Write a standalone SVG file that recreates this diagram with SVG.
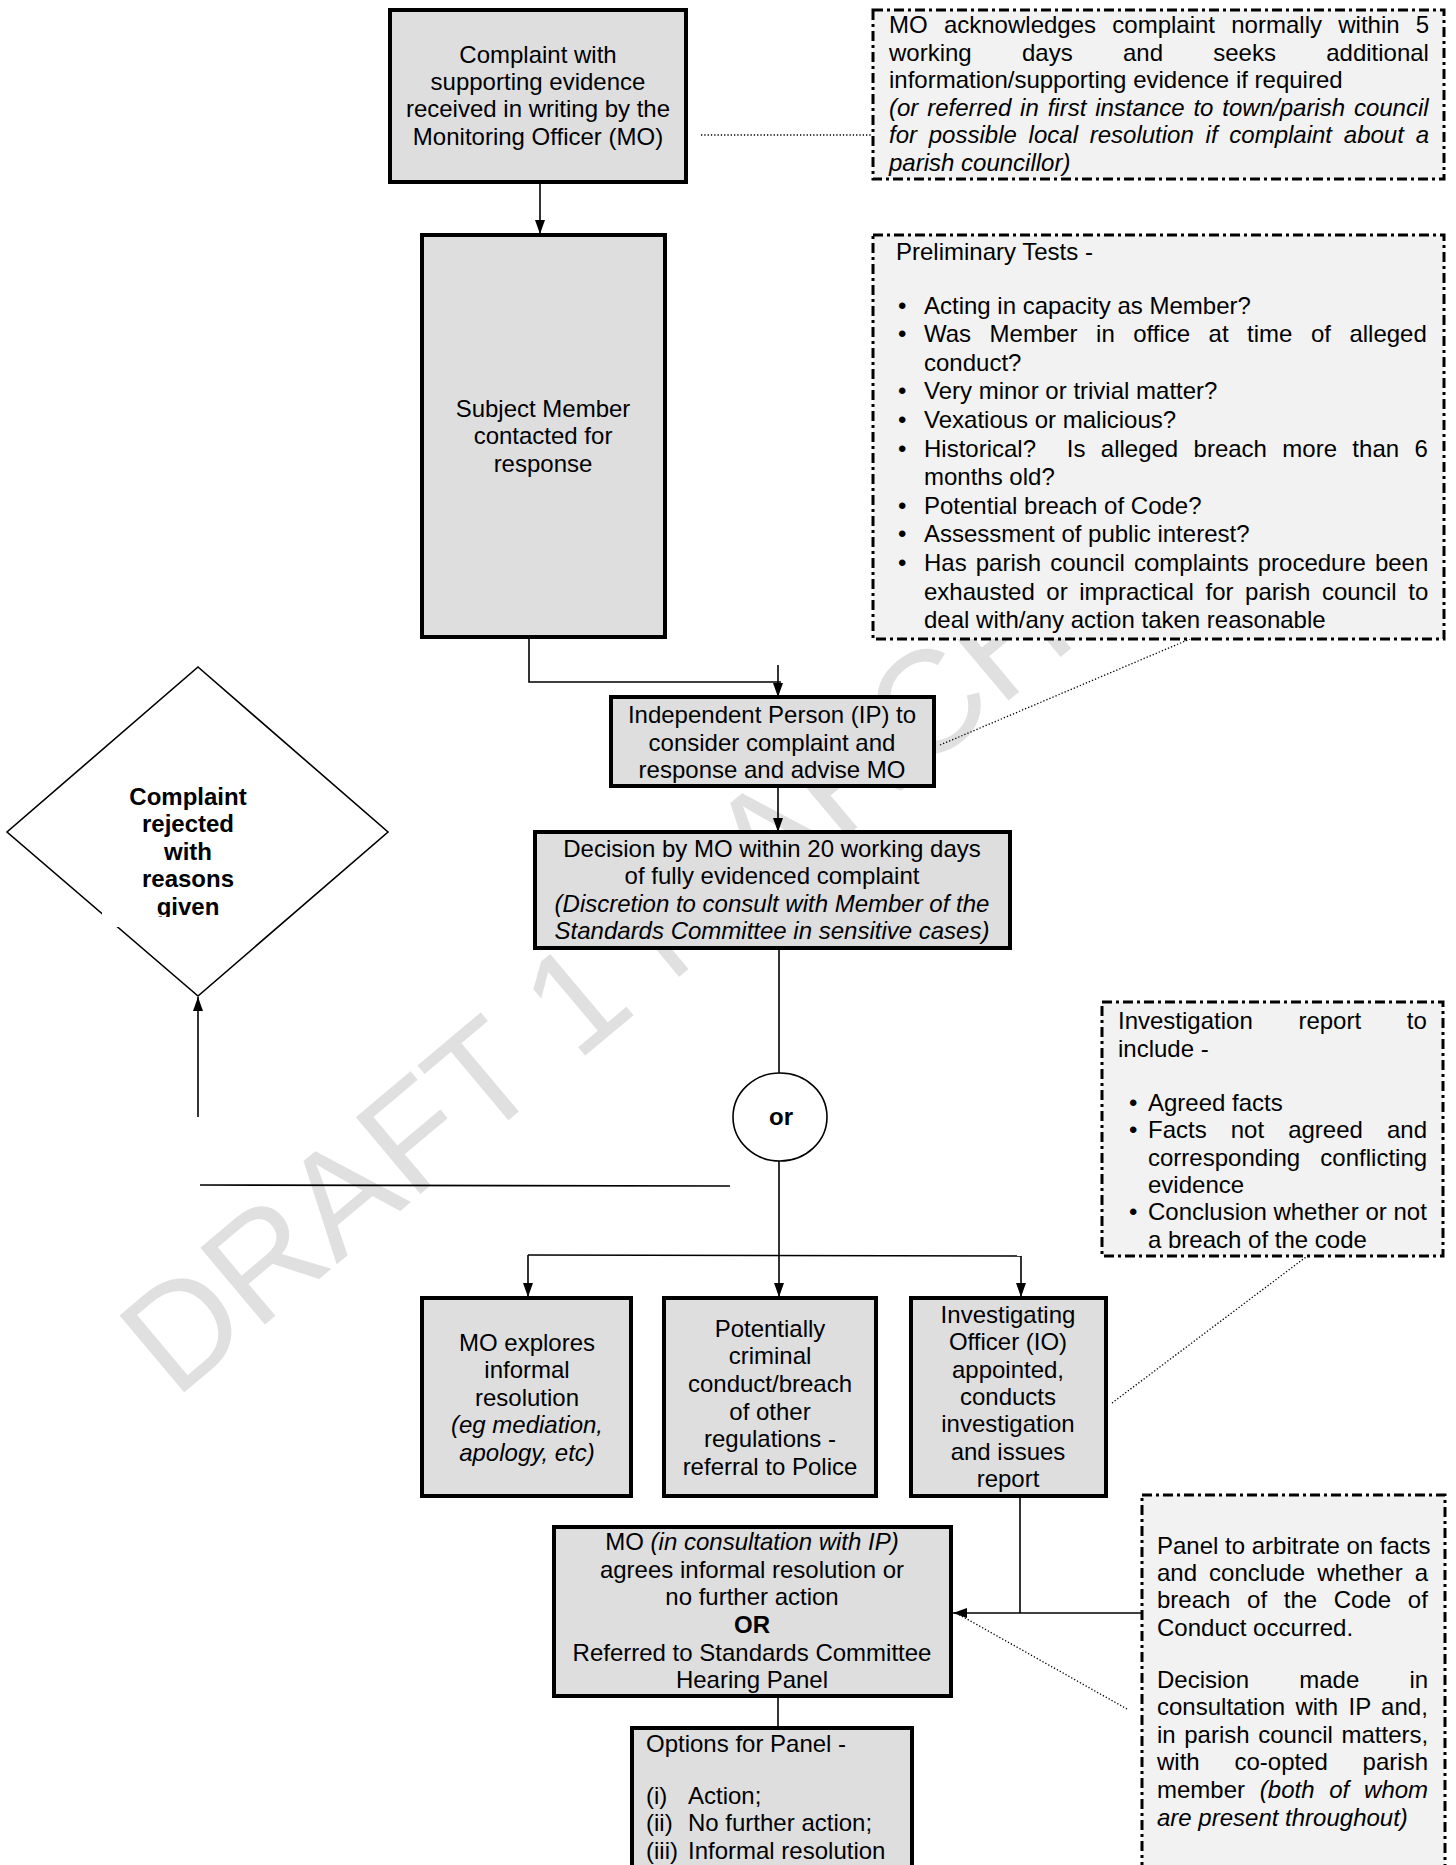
<svg xmlns="http://www.w3.org/2000/svg" width="1456" height="1865" viewBox="0 0 1456 1865">
<style>
text{font-family:"Liberation Sans",Arial,sans-serif;font-size:24px;fill:#000}
.c{text-anchor:middle}
.i{font-style:italic}
.b{font-weight:bold}
.pre{white-space:pre}
.box{fill:#dedede;stroke:#000;stroke-width:4}
.note{fill:#f2f2f2;stroke:#000;stroke-width:3;stroke-dasharray:10 4 3 4}
.ln{stroke:#000;stroke-width:1.6;fill:none}
.dot{stroke:#000;stroke-width:1.3;stroke-dasharray:1.3 2;fill:none}
.arr{marker-end:url(#ah)}
.wm{font-size:146px;fill:#e0e0e0}
</style>
<defs>
<marker id="ah" markerUnits="userSpaceOnUse" viewBox="0 0 14 10" refX="14" refY="5" markerWidth="14" markerHeight="10" orient="auto">
<path d="M0,0 L14,5 L0,10 z" fill="#000"/>
</marker>
<clipPath id="dclip"><rect x="100" y="770" width="180" height="147"/></clipPath>
</defs>
<rect width="1456" height="1865" fill="#fff"/>
<text class="wm" x="175" y="1400" transform="rotate(-40 175 1400)">DRAFT 1 MARCH</text>

<g id="connectors">
<line class="ln arr" x1="540" y1="182" x2="540" y2="234"/>
<line class="dot" x1="701" y1="135" x2="872" y2="135"/>
<path class="ln" d="M529,639 V682 H781"/>
<line class="ln arr" x1="778" y1="665" x2="778" y2="697"/>
<line class="dot" x1="940" y1="745" x2="1190" y2="639"/>
<line class="ln arr" x1="778" y1="786" x2="778" y2="832"/>
<line class="ln arr" x1="198" y1="1117" x2="198" y2="997"/>
<line class="ln" x1="200" y1="1185" x2="730" y2="1186" stroke-width="2.6"/>
<line class="ln" x1="779" y1="948" x2="779" y2="1073"/>
<line class="ln arr" x1="779" y1="1161" x2="779" y2="1297"/>
<line class="ln" x1="528" y1="1255" x2="1021" y2="1256" stroke-width="2.2"/>
<line class="ln arr" x1="528" y1="1255" x2="528" y2="1297"/>
<line class="ln arr" x1="1021" y1="1256" x2="1021" y2="1297"/>
<line class="dot" x1="1112" y1="1403" x2="1306" y2="1257"/>
<line class="ln" x1="1020" y1="1496" x2="1020" y2="1613"/>
<line class="ln arr" x1="1142" y1="1613" x2="953" y2="1613"/>
<line class="dot" x1="1127" y1="1709" x2="958" y2="1614"/>
<line class="ln" x1="778" y1="1696" x2="778" y2="1728" stroke-width="2"/>
</g>

<g id="complaint">
<rect class="box" x="390" y="10" width="296" height="172"/>
<text class="c" x="538" y="63">Complaint with</text>
<text class="c" x="538" y="90">supporting evidence</text>
<text class="c" x="538" y="117">received in writing by the</text>
<text class="c" x="538" y="145">Monitoring Officer (MO)</text>
</g>

<g id="acknowledge-note">
<rect class="note" x="873" y="10" width="571" height="169"/>
<text x="889" y="33" word-spacing="9.6">MO acknowledges complaint normally within 5</text>
<text x="889" y="60.5" word-spacing="43.6">working days and seeks additional</text>
<text x="889" y="88">information/supporting evidence if required</text>
<text class="i" x="889" y="115.5" word-spacing="2.2">(or referred in first instance to town/parish council</text>
<text class="i" x="889" y="143" word-spacing="5.1">for possible local resolution if complaint about a</text>
<text class="i" x="889" y="170.5">parish councillor)</text>
</g>

<g id="subject-member">
<rect class="box" x="422" y="235" width="243" height="402"/>
<text class="c" x="543" y="417">Subject Member</text>
<text class="c" x="543" y="444">contacted for</text>
<text class="c" x="543" y="472">response</text>
</g>

<g id="preliminary-tests">
<rect class="note" x="873" y="235" width="571" height="404"/>
<text x="896" y="260">Preliminary Tests -</text>
<text x="898" y="313.5">•</text><text x="924" y="313.5">Acting in capacity as Member?</text>
<text x="898" y="342">•</text><text x="924" y="342" word-spacing="11.8">Was Member in office at time of alleged</text>
<text x="924" y="370.7">conduct?</text>
<text x="898" y="399.3">•</text><text x="924" y="399.3">Very minor or trivial matter?</text>
<text x="898" y="428">•</text><text x="924" y="428">Vexatious or malicious?</text>
<text x="898" y="456.6">•</text><text class="pre" x="924" y="456.6" word-spacing="8.7">Historical?  Is alleged breach more than 6</text>
<text x="924" y="485.2">months old?</text>
<text x="898" y="513.8">•</text><text x="924" y="513.8">Potential breach of Code?</text>
<text x="898" y="542.4">•</text><text x="924" y="542.4">Assessment of public interest?</text>
<text x="898" y="571">•</text><text x="924" y="571" word-spacing="2.4">Has parish council complaints procedure been</text>
<text x="924" y="599.6" word-spacing="4.9">exhausted or impractical for parish council to</text>
<text x="924" y="628.2">deal with/any action taken reasonable</text>
</g>

<g id="independent-person">
<rect class="box" x="611" y="697" width="323" height="89"/>
<text class="c" x="772" y="723">Independent Person (IP) to</text>
<text class="c" x="772" y="751">consider complaint and</text>
<text class="c" x="772" y="778">response and advise MO</text>
</g>

<g id="decision">
<rect class="box" x="535" y="832" width="475" height="116"/>
<text class="c" x="772" y="857">Decision by MO within 20 working days</text>
<text class="c" x="772" y="884">of fully evidenced complaint</text>
<text class="c i" x="772" y="912">(Discretion to consult with Member of the</text>
<text class="c i" x="772" y="939">Standards Committee in sensitive cases)</text>
</g>

<g id="rejected">
<polygon points="198,667 388,832 198,996 7,832" fill="#fff" stroke="#000" stroke-width="1.6"/>
<rect x="102" y="780" width="170" height="147" fill="#fff"/>
<g clip-path="url(#dclip)">
<text class="c b" x="188" y="805">Complaint</text>
<text class="c b" x="188" y="832">rejected</text>
<text class="c b" x="188" y="860">with</text>
<text class="c b" x="188" y="887">reasons</text>
<text class="c b" x="188" y="915">given</text>
</g>
</g>

<g id="or">
<ellipse cx="780" cy="1117" rx="47" ry="44" fill="#fff" stroke="#000" stroke-width="1.6"/>
<text class="c b" x="781" y="1125">or</text>
</g>

<g id="informal">
<rect class="box" x="422" y="1298" width="209" height="198"/>
<text class="c" x="527" y="1351">MO explores</text>
<text class="c" x="527" y="1378">informal</text>
<text class="c" x="527" y="1406">resolution</text>
<text class="c i" x="527" y="1433">(eg mediation,</text>
<text class="c i" x="527" y="1461">apology, etc)</text>
</g>

<g id="police">
<rect class="box" x="664" y="1298" width="212" height="198"/>
<text class="c" x="770" y="1337">Potentially</text>
<text class="c" x="770" y="1364">criminal</text>
<text class="c" x="770" y="1392">conduct/breach</text>
<text class="c" x="770" y="1420">of other</text>
<text class="c" x="770" y="1447">regulations -</text>
<text class="c" x="770" y="1475">referral to Police</text>
</g>

<g id="investigating">
<rect class="box" x="911" y="1298" width="195" height="198"/>
<text class="c" x="1008" y="1323">Investigating</text>
<text class="c" x="1008" y="1350">Officer (IO)</text>
<text class="c" x="1008" y="1378">appointed,</text>
<text class="c" x="1008" y="1405">conducts</text>
<text class="c" x="1008" y="1432">investigation</text>
<text class="c" x="1008" y="1460">and issues</text>
<text class="c" x="1008" y="1487">report</text>
</g>

<g id="report-note">
<rect class="note" x="1102" y="1002" width="341" height="254"/>
<text x="1118" y="1029" word-spacing="39">Investigation report to</text>
<text x="1118" y="1056.5">include -</text>
<text x="1129" y="1111">•</text><text x="1148" y="1111">Agreed facts</text>
<text x="1129" y="1138">•</text><text x="1148" y="1138" word-spacing="17.4">Facts not agreed and</text>
<text x="1148" y="1165.5" word-spacing="13.6">corresponding conflicting</text>
<text x="1148" y="1193">evidence</text>
<text x="1129" y="1220">•</text><text x="1148" y="1220">Conclusion whether or not</text>
<text x="1148" y="1247.5">a breach of the code</text>
</g>

<g id="mo-agrees">
<rect class="box" x="554" y="1527" width="397" height="169"/>
<text class="c" x="752" y="1550">MO <tspan class="i">(in consultation with IP)</tspan></text>
<text class="c" x="752" y="1578">agrees informal resolution or</text>
<text class="c" x="752" y="1605">no further action</text>
<text class="c b" x="752" y="1633">OR</text>
<text class="c" x="752" y="1661">Referred to Standards Committee</text>
<text class="c" x="752" y="1688">Hearing Panel</text>
</g>

<g id="options">
<rect class="box" x="632" y="1728" width="280" height="170"/>
<text x="646" y="1752">Options for Panel -</text>
<text x="646" y="1804">(i)</text><text x="688" y="1804">Action;</text>
<text x="646" y="1831">(ii)</text><text x="688" y="1831">No further action;</text>
<text x="646" y="1859">(iii)</text><text x="688" y="1859">Informal resolution</text>
</g>

<g id="panel-note">
<rect class="note" x="1142" y="1495" width="303" height="400"/>
<text x="1157" y="1554">Panel to arbitrate on facts</text>
<text x="1157" y="1581" word-spacing="5.4">and conclude whether a</text>
<text x="1157" y="1608" word-spacing="10">breach of the Code of</text>
<text x="1157" y="1636">Conduct occurred.</text>
<text x="1157" y="1688" word-spacing="43.5">Decision made in</text>
<text x="1157" y="1715" word-spacing="3.7">consultation with IP and,</text>
<text x="1157" y="1743" word-spacing="1.9">in parish council matters,</text>
<text x="1157" y="1770" word-spacing="28.1">with co-opted parish</text>
<text x="1157" y="1798" word-spacing="8.1">member <tspan class="i">(both of whom</tspan></text>
<text class="i" x="1157" y="1826">are present throughout)</text>
</g>
</svg>
